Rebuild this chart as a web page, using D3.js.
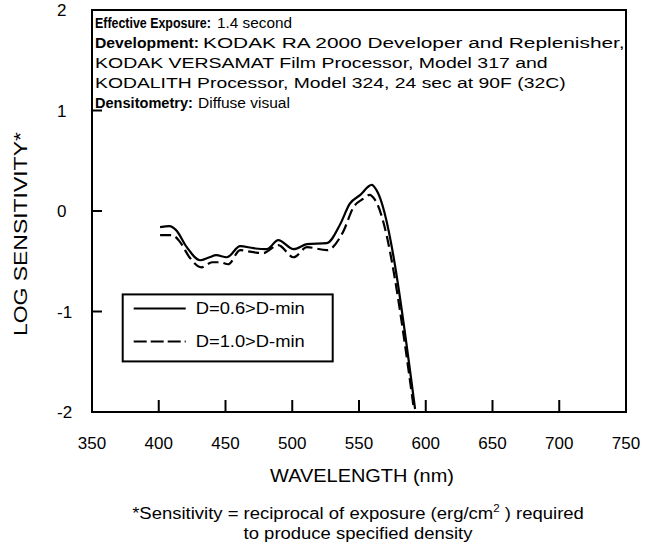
<!DOCTYPE html>
<html>
<head>
<meta charset="utf-8">
<script src="https://cdn.jsdelivr.net/npm/d3@7"></script>
<style>
  body { margin: 0; background: #fff; }
  svg { display: block; }
  text { font-family: Arial, "Liberation Sans", sans-serif; fill: #000; }
</style>
</head>
<body>
<div id="chart"></div>
<script>
var svgWidth = 646;
var svgHeight = 542;

var margin = { top: 10, right: 20, bottom: 130, left: 92 };
var width = svgWidth - margin.left - margin.right;
var height = svgHeight - margin.top - margin.bottom;

// wavelength (nm) / log sensitivity
var wave06 = [401, 408, 413, 421, 431, 438, 443, 451, 461, 471, 481, 489.5, 501, 511, 526, 536, 543, 551, 559.5, 563, 592];
var sens06 = [-0.16, -0.15, -0.19, -0.36, -0.49, -0.46, -0.44, -0.46, -0.35, -0.37, -0.38, -0.29, -0.38, -0.33, -0.32, -0.13, 0.07, 0.16, 0.26, 0.21, -1.97];

var wave10 = [401, 410, 416, 423, 432, 440, 446, 452, 461, 471, 478, 489.5, 501, 511, 526, 538, 546, 553, 558, 562, 591];
var sens10 = [-0.24, -0.24, -0.31, -0.46, -0.56, -0.51, -0.51, -0.53, -0.39, -0.41, -0.42, -0.34, -0.46, -0.36, -0.39, -0.21, 0.04, 0.12, 0.16, 0.11, -1.96];

var xTicks = [350, 400, 450, 500, 550, 600, 650, 700, 750];
var yTicks = [-2, -1, 0, 1, 2];
var legendLabels = ["D=0.6>D-min", "D=1.0>D-min"];

var noteBold = ["Effective Exposure:", "Development:", "", "", "Densitometry:"];
var noteText = ["1.4 second",
    "KODAK RA 2000 Developer and Replenisher,",
    "KODAK VERSAMAT Film Processor, Model 317 and",
    "KODALITH Processor, Model 324, 24 sec at 90F (32C)",
    "Diffuse visual"];

// the original text runs are stretched unevenly, so each run gets its own span [start, end] in px
var boldSpan = [[3, 119], [3, 107], null, null, [3, 101]];
var textSpan = [[125, 200], [111, 533], [3, 456], [3, 474], [106, 198]];

var series = [
    { name: legendLabels[0], pts: wave06.map((w, i) => ({ w: w, s: sens06[i] })), dash: null },
    { name: legendLabels[1], pts: wave10.map((w, i) => ({ w: w, s: sens10[i] })), dash: "11,5" }
];

var svg = d3.select("#chart")
    .append("svg")
    .attr("width", svgWidth)
    .attr("height", svgHeight);

var chartGroup = svg.append("g")
    .attr("transform", `translate(${margin.left}, ${margin.top})`);

var x = d3.scaleLinear().domain([350, 750]).range([0, width]);
var y = d3.scaleLinear().domain([-2, 2]).range([height, 0]);

// stretch a text element horizontally to a given width around its anchor
function stretch(sel, cx, cy, w) {
    var natural = sel.node().getComputedTextLength();
    sel.attr("transform", `translate(${cx}, ${cy}) scale(${w / natural}, 1)`);
}

// frame
chartGroup.append("rect")
    .attr("width", width)
    .attr("height", height)
    .attr("fill", "none")
    .attr("stroke", "#000")
    .attr("stroke-width", 2);

// inward ticks
chartGroup.selectAll(".xtick")
    .data(xTicks.slice(1, -1))
    .enter()
    .append("line")
    .attr("x1", d => x(d))
    .attr("x2", d => x(d))
    .attr("y1", height)
    .attr("y2", height - 12)
    .attr("stroke", "#000")
    .attr("stroke-width", 2);

chartGroup.selectAll(".ytick")
    .data(yTicks.slice(1, -1))
    .enter()
    .append("line")
    .attr("x1", 0)
    .attr("x2", 10)
    .attr("y1", d => y(d))
    .attr("y2", d => y(d))
    .attr("stroke", "#000")
    .attr("stroke-width", 2);

// tick labels
chartGroup.selectAll(".xlab")
    .data(xTicks)
    .enter()
    .append("text")
    .attr("x", d => x(d))
    .attr("y", height + 37)
    .attr("text-anchor", "middle")
    .style("font-size", "17px")
    .text(d => d);

chartGroup.selectAll(".ylab")
    .data(yTicks)
    .enter()
    .append("text")
    .attr("x", -35)
    .attr("y", d => y(d) + 6)
    .attr("text-anchor", "start")
    .style("font-size", "17px")
    .text(d => d);

// axis titles
var xTitle = chartGroup.append("text")
    .attr("text-anchor", "middle")
    .style("font-size", "19px")
    .text("WAVELENGTH (nm)");
stretch(xTitle, width / 2 + 3, height + 70, 184);

var yTitle = chartGroup.append("text")
    .attr("text-anchor", "middle")
    .style("font-size", "17.5px")
    .text("LOG SENSITIVITY*");
yTitle.attr("transform", `translate(-65, ${y(-0.23)}) rotate(-90)`)
    .attr("textLength", 204)
    .attr("lengthAdjust", "spacingAndGlyphs");

// footnote
var foot = chartGroup.append("text")
    .attr("text-anchor", "middle")
    .style("font-size", "16px");
foot.append("tspan").text("*Sensitivity = reciprocal of exposure (erg/cm");
foot.append("tspan").attr("dy", -7).style("font-size", "10px").text("2");
foot.append("tspan").attr("dy", 7).text(" ) required");
stretch(foot, width / 2 - 1, height + 107, 452);

var foot2 = chartGroup.append("text")
    .attr("text-anchor", "middle")
    .style("font-size", "16px")
    .text("to produce specified density");
stretch(foot2, width / 2 - 1, height + 127, 229);

// annotation block
noteText.forEach(function(t, i) {
    var by = 18 + i * 20;
    if (noteBold[i]) {
        var b = chartGroup.append("text")
            .style("font-size", "15.5px")
            .style("font-weight", "bold")
            .text(noteBold[i]);
        stretch(b, boldSpan[i][0], by, boldSpan[i][1] - boldSpan[i][0]);
    }
    var r = chartGroup.append("text")
        .style("font-size", "15.5px")
        .text(t);
    stretch(r, textSpan[i][0], by, textSpan[i][1] - textSpan[i][0]);
});

// curves
var line = d3.line()
    .x(d => x(d.w))
    .y(d => y(d.s))
    .curve(d3.curveMonotoneX);

chartGroup.selectAll(".curve")
    .data(series)
    .enter()
    .append("path")
    .attr("d", d => line(d.pts))
    .attr("fill", "none")
    .attr("stroke", "#000")
    .attr("stroke-width", 2.2)
    .attr("stroke-dasharray", d => d.dash);

// legend
var legend = chartGroup.append("g")
    .attr("transform", `translate(${x(373)}, ${y(-0.83)})`);

legend.append("rect")
    .attr("width", 210)
    .attr("height", 67)
    .attr("fill", "#fff")
    .attr("stroke", "#000")
    .attr("stroke-width", 2);

var rows = legend.selectAll(".row")
    .data(series)
    .enter()
    .append("g")
    .attr("transform", (d, i) => `translate(0, ${14 + i * 33})`);

rows.append("line")
    .attr("x1", 11)
    .attr("x2", 63)
    .attr("stroke", "#000")
    .attr("stroke-width", 2)
    .attr("stroke-dasharray", (d, i) => i ? "13,4" : null);

rows.append("text")
    .attr("x", 73)
    .attr("y", 6)
    .style("font-size", "16px")
    .attr("textLength", 109)
    .attr("lengthAdjust", "spacingAndGlyphs")
    .text(d => d.name);
</script>
</body>
</html>
